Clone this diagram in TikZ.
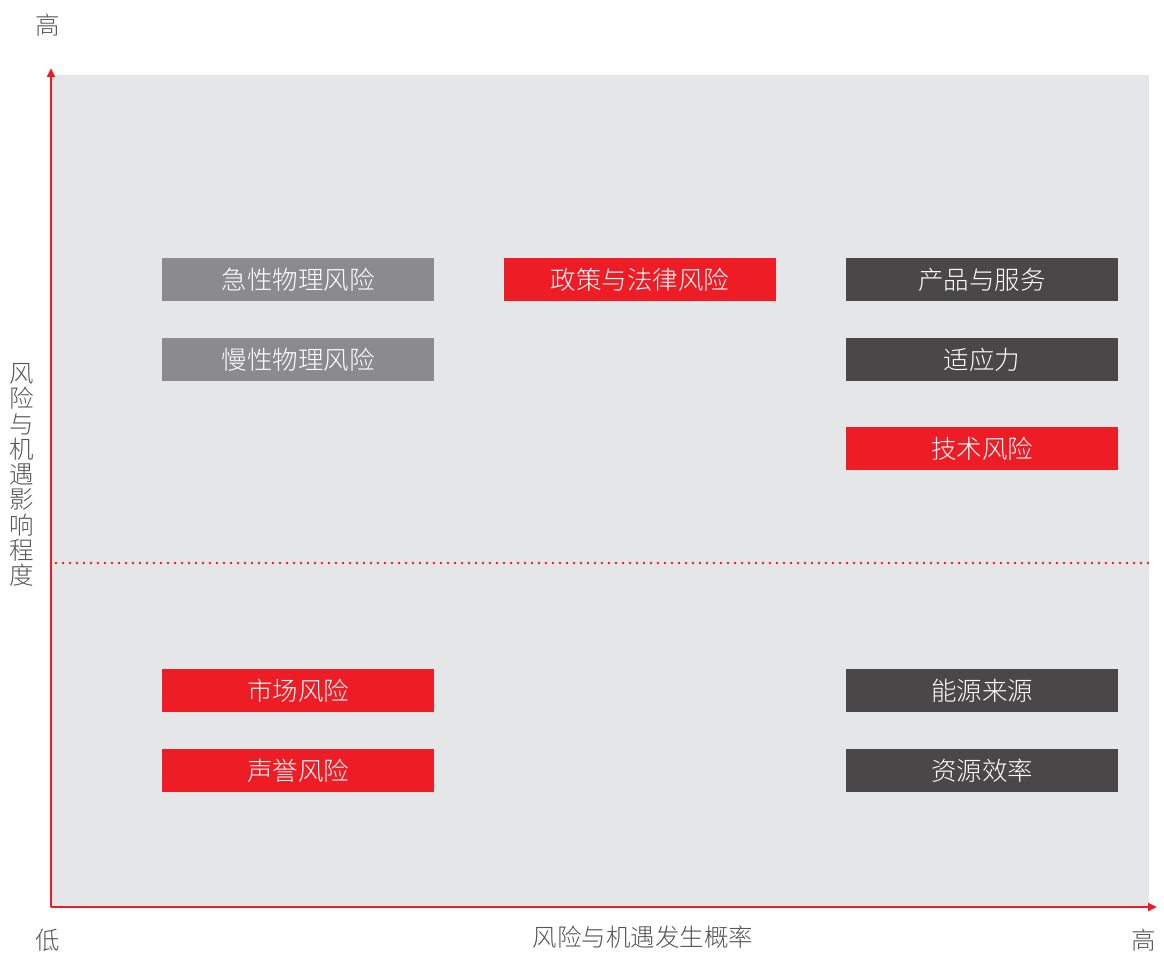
\documentclass[tikz,border=0pt]{standalone}
\usepackage{fontspec}
\newfontfamily\cjk{Noto Sans CJK SC Light}
\usetikzlibrary{arrows.meta}
\definecolor{bg}{HTML}{E5E6E8}
\definecolor{axred}{HTML}{EE1C25}
\definecolor{midgray}{HTML}{8B8B8E}
\definecolor{darkgray}{HTML}{4A4748}
\definecolor{labgray}{HTML}{555555}
\tikzset{
  x=1pt,y=-1pt,
  riskbox/.style={minimum width=272pt,minimum height=43pt,inner sep=0pt,text=white,font=\cjk\fontsize{25.5}{25.5}\selectfont},
  phys/.style={riskbox,fill=midgray},
  redbox/.style={riskbox,fill=axred},
  darkbox/.style={riskbox,fill=darkgray},
  axlabel/.style={text=labgray,font=\cjk\fontsize{24.5}{25.25}\selectfont,inner sep=0pt},
  axis/.style={draw=axred,line width=2.4pt,-{Triangle[length=9pt,width=8pt]}}
}
\begin{document}
\begin{tikzpicture}
\useasboundingbox (0,0) rectangle (1164,954);
\fill[bg] (52,75) rectangle (1149,907);
\coordinate (origin) at (51,907);
\coordinate (ytip) at (51,68);
\coordinate (xtip) at (1157,907);
\coordinate (dl) at (56,563);
\coordinate (dr) at (1150,563);
\draw[axred,line width=2.6pt,line cap=round,dash pattern=on 0pt off 7pt] (dl) -- (dr);
\draw[axis] (origin) -- (ytip);
\draw[axis] (origin) -- (xtip);
% boxes
\node[phys] (b1) at (298,279.5) {急性物理风险};
\node[phys] (b2) at (298,359.5) {慢性物理风险};
\node[redbox] (b3) at (640,279.5) {政策与法律风险};
\node[darkbox] (b4) at (982,279.5) {产品与服务};
\node[darkbox] (b5) at (982,359.5) {适应力};
\node[redbox] (b6) at (982,448.5) {技术风险};
\node[redbox] (b7) at (298,690.5) {市场风险};
\node[redbox] (b8) at (298,770.5) {声誉风险};
\node[darkbox] (b9) at (982,690.5) {能源来源};
\node[darkbox] (b10) at (982,770.5) {资源效率};
% axis labels
\node[axlabel] (hiy) at (48,25) {高};
\node[axlabel] (lo) at (48,940) {低};
\node[axlabel] (hix) at (1144,940) {高};
\node[axlabel] (xl) at (643,937) {风险与机遇发生概率};
\node[axlabel,align=center] (yl) at (22,475) {风\\险\\与\\机\\遇\\影\\响\\程\\度};
\end{tikzpicture}
\end{document}
